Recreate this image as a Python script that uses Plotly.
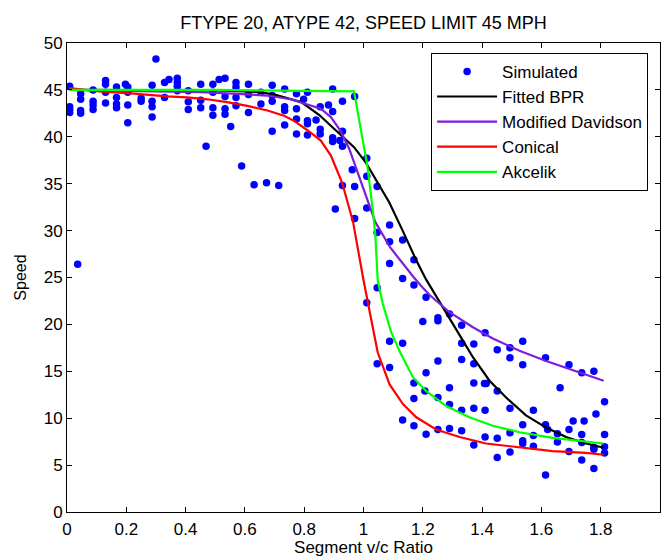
import plotly.graph_objects as go

# ---- Simulated data (Segment v/c ratio, speed) ----
sim_x = [0.009, 0.009, 0.009, 0.009,
         0.036,
         0.046, 0.046, 0.046, 0.046,
         0.088, 0.088, 0.088, 0.088,
         0.13, 0.13, 0.13, 0.13,
         0.167, 0.167, 0.167, 0.167,
         0.197, 0.205, 0.205, 0.205, 0.205,
         0.25, 0.25,
         0.287, 0.287, 0.287, 0.287,
         0.30,
         0.329, 0.329,
         0.344,
         0.372, 0.372, 0.372, 0.372,
         0.409, 0.409, 0.409,
         0.451, 0.451, 0.451,
         0.469,
         0.492, 0.492, 0.492, 0.492,
         0.513,
         0.533, 0.533, 0.533, 0.533,
         0.552,
         0.570, 0.570, 0.570, 0.570,
         0.589,
         0.612, 0.612, 0.612,
         0.631,
         0.654, 0.654,
         0.673,
         0.692, 0.692, 0.692, 0.692,
         0.714,
         0.734, 0.734, 0.734, 0.734,
         0.774, 0.774, 0.774, 0.774,
         0.798,
         0.811, 0.811, 0.811, 0.811,
         0.84,
         0.854, 0.854, 0.854,
         0.882,
         0.896, 0.896, 0.896, 0.896,
         0.905,
         0.92,
         0.929, 0.929, 0.929, 0.929,
         0.962,
         0.970, 0.970, 0.970,
         1.011, 1.011, 1.011, 1.011,
         1.046, 1.046, 1.046, 1.046,
         1.088, 1.088, 1.088, 1.088, 1.088,
         1.132, 1.132, 1.132, 1.132,
         1.17, 1.17, 1.17, 1.17, 1.17,
         1.211, 1.2, 1.211, 1.207, 1.211,
         1.251, 1.251, 1.251, 1.251, 1.251,
         1.29, 1.29, 1.29, 1.29,
         1.331, 1.331, 1.331, 1.331, 1.331,
         1.372, 1.372, 1.372, 1.372, 1.372,
         1.41, 1.408, 1.414, 1.41, 1.41,
         1.451, 1.451, 1.451, 1.451,
         1.494, 1.494, 1.494, 1.494, 1.494,
         1.537, 1.537, 1.537, 1.537, 1.537,
         1.573, 1.573, 1.573,
         1.614, 1.614, 1.621, 1.614,
         1.663, 1.654, 1.654,
         1.693, 1.693, 1.693,
         1.707,
         1.736, 1.736, 1.736, 1.736,
         1.744,
         1.777, 1.777, 1.777, 1.777,
         1.784,
         1.813, 1.813, 1.813, 1.813]
sim_y = [45.4, 43.2, 42.9, 42.6,
         26.4,
         44.6, 44.0, 42.8, 42.5,
         45.0, 43.8, 43.4, 42.9,
         46.0, 45.6, 44.75, 43.6,
         45.3, 44.2, 43.5, 43.1,
         45.6, 45.3, 44.75, 43.4, 41.5,
         44.1, 43.8,
         45.5, 43.8, 43.2, 42.1,
         48.3,
         45.8, 44.2,
         46.1,
         46.25, 45.8, 45.4, 44.9,
         44.9, 43.75, 42.9,
         45.6, 43.9, 43.1,
         39.0,
         45.6, 44.75, 43.1, 42.3,
         46.1,
         46.25, 44.3, 43.0, 42.4,
         41.1,
         45.8, 45.3, 44.2, 43.3,
         36.9,
         45.6, 44.5, 42.6,
         34.9,
         44.75, 43.5,
         35.1,
         45.5, 44.4, 43.8, 40.6,
         34.8,
         45.1, 43.2, 42.8, 41.25,
         44.6, 43.0, 41.9, 40.3,
         44.0,
         44.75, 41.7, 41.4, 40.2,
         41.8,
         43.2, 40.8, 40.3,
         43.4,
         45.1, 42.7, 39.9, 39.5,
         32.3,
         39.6,
         43.8, 40.6, 39.0, 34.8,
         36.5,
         44.3, 34.7, 31.3,
         37.7, 35.8, 32.4, 22.3,
         34.7, 29.8, 23.9, 15.8,
         30.6, 28.8, 26.5, 18.2, 15.4,
         29.0, 24.9, 18.0, 9.8,
         26.9, 24.2, 13.75, 12.1, 9.2,
         22.9, 20.3, 14.85, 12.9, 8.3,
         20.7, 20.4, 16.1, 12.2, 8.8,
         21.1, 13.25, 11.45, 8.9,
         19.9, 18.0, 16.25, 10.85, 8.65,
         17.9, 15.8, 13.75, 11.05, 7.15,
         19.1, 13.7, 13.7, 10.85, 8.0,
         17.3, 12.9, 7.85, 5.8,
         17.5, 16.45, 11.05, 8.45, 6.4,
         18.2, 15.7, 9.3, 7.6, 7.3,
         10.85, 8.15, 7.0,
         16.45, 9.3, 8.8, 3.95,
         13.25, 8.35, 7.45,
         15.7, 8.8, 6.45,
         9.7,
         14.85, 8.25, 7.4, 5.55,
         9.7,
         15.0, 6.9, 6.7, 4.65,
         10.45,
         11.75, 8.25, 6.95, 6.3]

# ---- Fitted curves ----
bpr_x = [0.008, 0.3, 0.5, 0.6, 0.654, 0.7, 0.79, 0.85, 0.89, 0.929, 0.968, 1.008,
         1.047, 1.087, 1.132, 1.177, 1.211, 1.262, 1.312, 1.369, 1.425, 1.481,
         1.548, 1.616, 1.683, 1.751, 1.81]
bpr_y = [45.0, 45.0, 44.95, 44.85, 44.75, 44.5, 43.7, 42.35, 41.2, 40.1, 38.9, 37.25,
         35.2, 33.0, 30.0, 26.9, 24.8, 22.2, 19.5, 16.5, 14.0, 12.2,
         10.3, 9.0, 8.0, 7.3, 6.85]

dav_x = [0.008, 0.2, 0.45, 0.56, 0.676, 0.755, 0.81, 0.856, 0.89, 0.923, 0.952, 0.974,
         0.997, 1.04, 1.09, 1.143, 1.17, 1.2, 1.224, 1.29, 1.369, 1.436, 1.526,
         1.616, 1.706, 1.81]
dav_y = [45.0, 44.9, 44.75, 44.6, 44.4, 44.0, 43.5, 43.0, 42.1, 40.6, 38.7, 36.7,
         34.6, 30.9, 28.2, 26.0, 25.0, 23.9, 23.1, 21.3, 19.7, 18.5, 17.2,
         16.1, 15.1, 14.0]

con_x = [0.008, 0.11, 0.225, 0.338, 0.406, 0.473, 0.54, 0.608, 0.676, 0.732, 0.766,
         0.811, 0.856, 0.89, 0.928, 0.965, 0.999, 1.016, 1.033, 1.048, 1.088, 1.133,
         1.178, 1.245, 1.324, 1.413, 1.526, 1.638, 1.75, 1.81]
con_y = [45.2, 44.85, 44.6, 44.3, 44.2, 44.0, 43.7, 43.3, 42.8, 42.25, 41.7,
         40.7, 39.6, 38.0, 35.1, 30.9, 24.9, 22.0, 19.4, 17.0, 13.6, 11.5,
         10.1, 8.8, 8.0, 7.3, 6.9, 6.5, 6.3, 6.1]

akc_x = [0.008, 0.5, 0.968, 1.013, 1.031, 1.040, 1.048, 1.065, 1.093, 1.121, 1.166,
         1.211, 1.279, 1.357, 1.436, 1.526, 1.638, 1.81]
akc_y = [45.0, 45.0, 44.85, 36.9, 32.3, 29.5, 24.7, 22.2, 19.2, 17.2, 14.4,
         12.9, 11.3, 10.1, 9.2, 8.5, 7.9, 7.3]

title_text = "FTYPE 20, ATYPE 42, SPEED LIMIT 45 MPH"
x_title = "Segment v/c Ratio"
y_title = "Speed"

FONT = "Liberation Sans, Arial, sans-serif"

fig = go.Figure()
fig.add_trace(go.Scatter(x=sim_x, y=sim_y, mode="markers", name="Simulated",
                         marker=dict(color="rgb(0,0,255)", size=7.5, line=dict(width=0))))
fig.add_trace(go.Scatter(x=bpr_x, y=bpr_y, mode="lines", name="Fitted BPR",
                         line=dict(color="black", width=2.2)))
fig.add_trace(go.Scatter(x=dav_x, y=dav_y, mode="lines", name="Modified Davidson",
                         line=dict(color="rgb(125,30,220)", width=2.2)))
fig.add_trace(go.Scatter(x=con_x, y=con_y, mode="lines", name="Conical",
                         line=dict(color="rgb(255,0,0)", width=2.2)))
fig.add_trace(go.Scatter(x=akc_x, y=akc_y, mode="lines", name="Akcelik",
                         line=dict(color="rgb(0,255,0)", width=2.2)))

axis_common = dict(
    showgrid=False, zeroline=False, showline=True, linecolor="black", linewidth=1,
    mirror="allticks", ticks="inside", ticklen=5, tickcolor="black", tickwidth=1,
    tickfont=dict(family=FONT, size=17, color="black"),
)

fig.update_layout(
    width=662, height=557,
    margin=dict(l=67, r=2, t=43, b=45, autoexpand=False),
    paper_bgcolor="white", plot_bgcolor="white",
    font=dict(family=FONT, color="black", size=16),
    title=dict(text=title_text, x=0.5, xref="paper", y=1 - 23 / 557, yref="container",
               xanchor="center", yanchor="middle",
               font=dict(family=FONT, size=18, color="black")),
    xaxis=dict(range=[0, 2], tick0=0, dtick=0.2, ticklabelstandoff=2,
               title=dict(text=x_title, font=dict(family=FONT, size=17, color="black"), standoff=6),
               **axis_common),
    yaxis=dict(range=[0, 50], tick0=0, dtick=5,
               title=dict(text=y_title, font=dict(family=FONT, size=16, color="black"), standoff=13),
               **axis_common),
    legend=dict(x=0.614, y=0.979, xanchor="left", yanchor="top",
                bgcolor="white", bordercolor="black", borderwidth=1,
                font=dict(family=FONT, size=17, color="black"),
                itemwidth=60, tracegroupgap=0),
    showlegend=True,
)

fig.write_html("out.html", config={"displayModeBar": False})
